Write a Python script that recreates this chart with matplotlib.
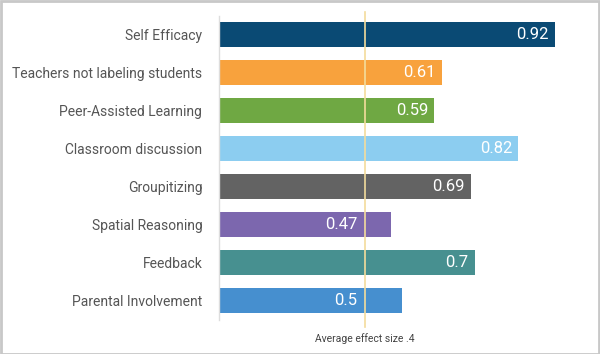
import matplotlib.pyplot as plt
from matplotlib.patches import Rectangle

plt.rcParams['font.family'] = ['Roboto', 'DejaVu Sans']

# effect sizes, top to bottom
labels = ["Self Efficacy", "Teachers not labeling students", "Peer-Assisted Learning",
          "Classroom discussion", "Groupitizing", "Spatial Reasoning", "Feedback",
          "Parental Involvement"]
values = [0.92, 0.61, 0.59, 0.82, 0.69, 0.47, 0.7, 0.5]
colors = ["#0a4a74", "#f8a23d", "#6fa843", "#8ccdf0", "#636363", "#7c67ae", "#479090", "#468fcf"]
avg_effect = 0.4

fig = plt.figure(figsize=(6, 3.54), dpi=100)
W, H = 600, 354
ax = fig.add_axes([219 / W, 1 - 319.7 / H, 365 / W, 304 / H])

y = range(len(labels))
ax.barh(y, values, height=0.66, color=colors, zorder=1)

ax.set_xlim(0, 1.0)
ax.set_ylim(len(labels) - 0.5, -0.5)
ax.set_yticks(list(y))
ax.set_yticklabels(labels, fontsize=10, color="#555555")
ax.tick_params(axis="y", length=0, pad=12)
ax.set_xticks([])
for s in ["top", "right", "bottom"]:
    ax.spines[s].set_visible(False)
ax.spines["left"].set_color("#dddddd")
ax.spines["left"].set_linewidth(1)

# average line, runs a bit past the plot area
line_px = ax.transData.transform((avg_effect, 0))[0]
x_avg = line_px / W
fig.add_artist(plt.Line2D([x_avg, x_avg], [1 - 12 / H, 1 - 327 / H],
                          color="#f3dc9c", linewidth=1.2, zorder=2))
fig.text(x_avg, 1 - 339 / H, "Average effect size .4", ha="center", va="center",
         fontsize=7.5, color="#444444")

# value labels; keep them clear of the average line
renderer = fig.canvas.get_renderer()
for i, v in enumerate(values):
    t = ax.annotate(str(v), (v, i), xytext=(-6, 0), textcoords="offset pixels",
                    ha="right", va="center", color="white", fontsize=12, zorder=3)
    bb = t.get_window_extent(renderer)
    if bb.x0 < line_px + 8 and bb.x1 > line_px - 8:
        shift = bb.x1 - (line_px - 8)
        t.set_position((-6 - shift, 0))

# outer frame
fig.add_artist(Rectangle((0.5 / W, 0.5 / H), 1 - 1.5 / W, 1 - 1.5 / H,
                         transform=fig.transFigure, fill=False,
                         edgecolor="#c8c8c8", linewidth=2))

fig.savefig("out.png", dpi=100)
